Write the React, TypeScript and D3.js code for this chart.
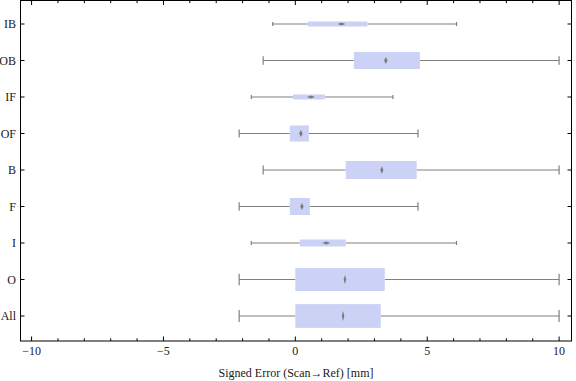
import React from 'react';
import * as d3 from 'd3';

const categories = ['IB', 'OB', 'IF', 'OF', 'B', 'F', 'I', 'O', 'All'];
const mins = [-0.86, -1.22, -1.67, -2.13, -1.22, -2.13, -1.67, -2.13, -2.13];
const q1s = [0.47, 2.22, -0.09, -0.21, 1.91, -0.21, 0.17, 0.0, 0.0];
const medians = [1.75, 3.43, 0.59, 0.21, 3.28, 0.25, 1.17, 1.88, 1.81];
const q3s = [2.73, 4.72, 1.12, 0.51, 4.6, 0.55, 1.91, 3.39, 3.24];
const maxs = [6.11, 10, 3.7, 4.65, 10, 4.65, 6.11, 10, 10];
// relative box thickness (sample weight)
const relSize = [0.21, 0.71, 0.21, 0.67, 0.75, 0.71, 0.29, 0.96, 0.99];
const xMajorTicks = [-10, -5, 0, 5, 10];
const xMinorTicks = d3.range(-10, 11, 1).filter((v) => v % 5 !== 0);
const xLabel = 'Signed Error (Scan\u2192Ref) [mm]';

const W = 576;
const H = 381;
const left = 20.5;
const right = 571.5;
const top = 0.5;
const bottom = 341;
const maxBox = 24;

export default function App() {
  const x = d3.scaleLinear().domain([-10.42, 10.47]).range([left, right]);
  const y = d3.scalePoint<string>().domain(categories).range([24, 316]);
  const font = '"Liberation Serif", "Times New Roman", serif';
  const fmt = (v: number) => (v < 0 ? '\u2212' + Math.abs(v) : String(v));
  const whisk = '#808080';

  return (
    <svg
      width={W}
      height={H}
      style={{ position: 'absolute', left: 0, top: 0, background: '#fff' }}
      fontFamily={font}
    >
      {categories.map((c, i) => {
        const cy = y(c)!;
        const bh = relSize[i] * maxBox;
        const cap = Math.max(4, bh * 0.5);
        const hd = Math.max(3, bh * 0.42);
        const wd = Math.min(9, Math.max(2.5, 24 / hd));
        const mx = x(medians[i]);
        return (
          <g key={c}>
            <line x1={x(mins[i])} x2={x(q1s[i])} y1={cy} y2={cy} stroke={whisk} strokeWidth={1.2} />
            <line x1={x(q3s[i])} x2={x(maxs[i])} y1={cy} y2={cy} stroke={whisk} strokeWidth={1.2} />
            <line x1={x(mins[i])} x2={x(mins[i])} y1={cy - cap / 2} y2={cy + cap / 2} stroke={whisk} strokeWidth={1.2} />
            <line x1={x(maxs[i])} x2={x(maxs[i])} y1={cy - cap / 2} y2={cy + cap / 2} stroke={whisk} strokeWidth={1.2} />
            <rect x={x(q1s[i])} width={x(q3s[i]) - x(q1s[i])} y={cy - bh / 2} height={bh} fill="#cbd2f5" />
            <path
              d={`M${mx - wd / 2},${cy} L${mx},${cy - hd / 2} L${mx + wd / 2},${cy} L${mx},${cy + hd / 2} Z`}
              fill="#7a7a7a"
            />
            <line x1={left} x2={left + 4} y1={cy} y2={cy} stroke="#000" />
            <line x1={right - 4} x2={right} y1={cy} y2={cy} stroke="#000" />
            <text x={16} y={cy} dy="0.35em" textAnchor="end" fontSize={12} fill="#1a1a1a">
              {c}
            </text>
          </g>
        );
      })}
      {xMajorTicks.map((t) => (
        <g key={'M' + t}>
          <line x1={x(t)} x2={x(t)} y1={bottom} y2={bottom - 4.5} stroke="#000" />
          <line x1={x(t)} x2={x(t)} y1={top} y2={top + 4.5} stroke="#000" />
          <text x={x(t)} y={354.5} textAnchor="middle" fontSize={12} fill="#1a1a1a">
            {fmt(t)}
          </text>
        </g>
      ))}
      {xMinorTicks.map((t) => (
        <g key={'m' + t}>
          <line x1={x(t)} x2={x(t)} y1={bottom} y2={bottom - 2.7} stroke="#000" />
          <line x1={x(t)} x2={x(t)} y1={top} y2={top + 2.7} stroke="#000" />
        </g>
      ))}
      <rect x={left} y={top} width={right - left} height={bottom - top} fill="none" stroke="#000" strokeWidth={1} />
      <text x={(left + right) / 2} y={376.5} textAnchor="middle" fontSize={12} fill="#1a1a1a">
        {xLabel}
      </text>
    </svg>
  );
}
